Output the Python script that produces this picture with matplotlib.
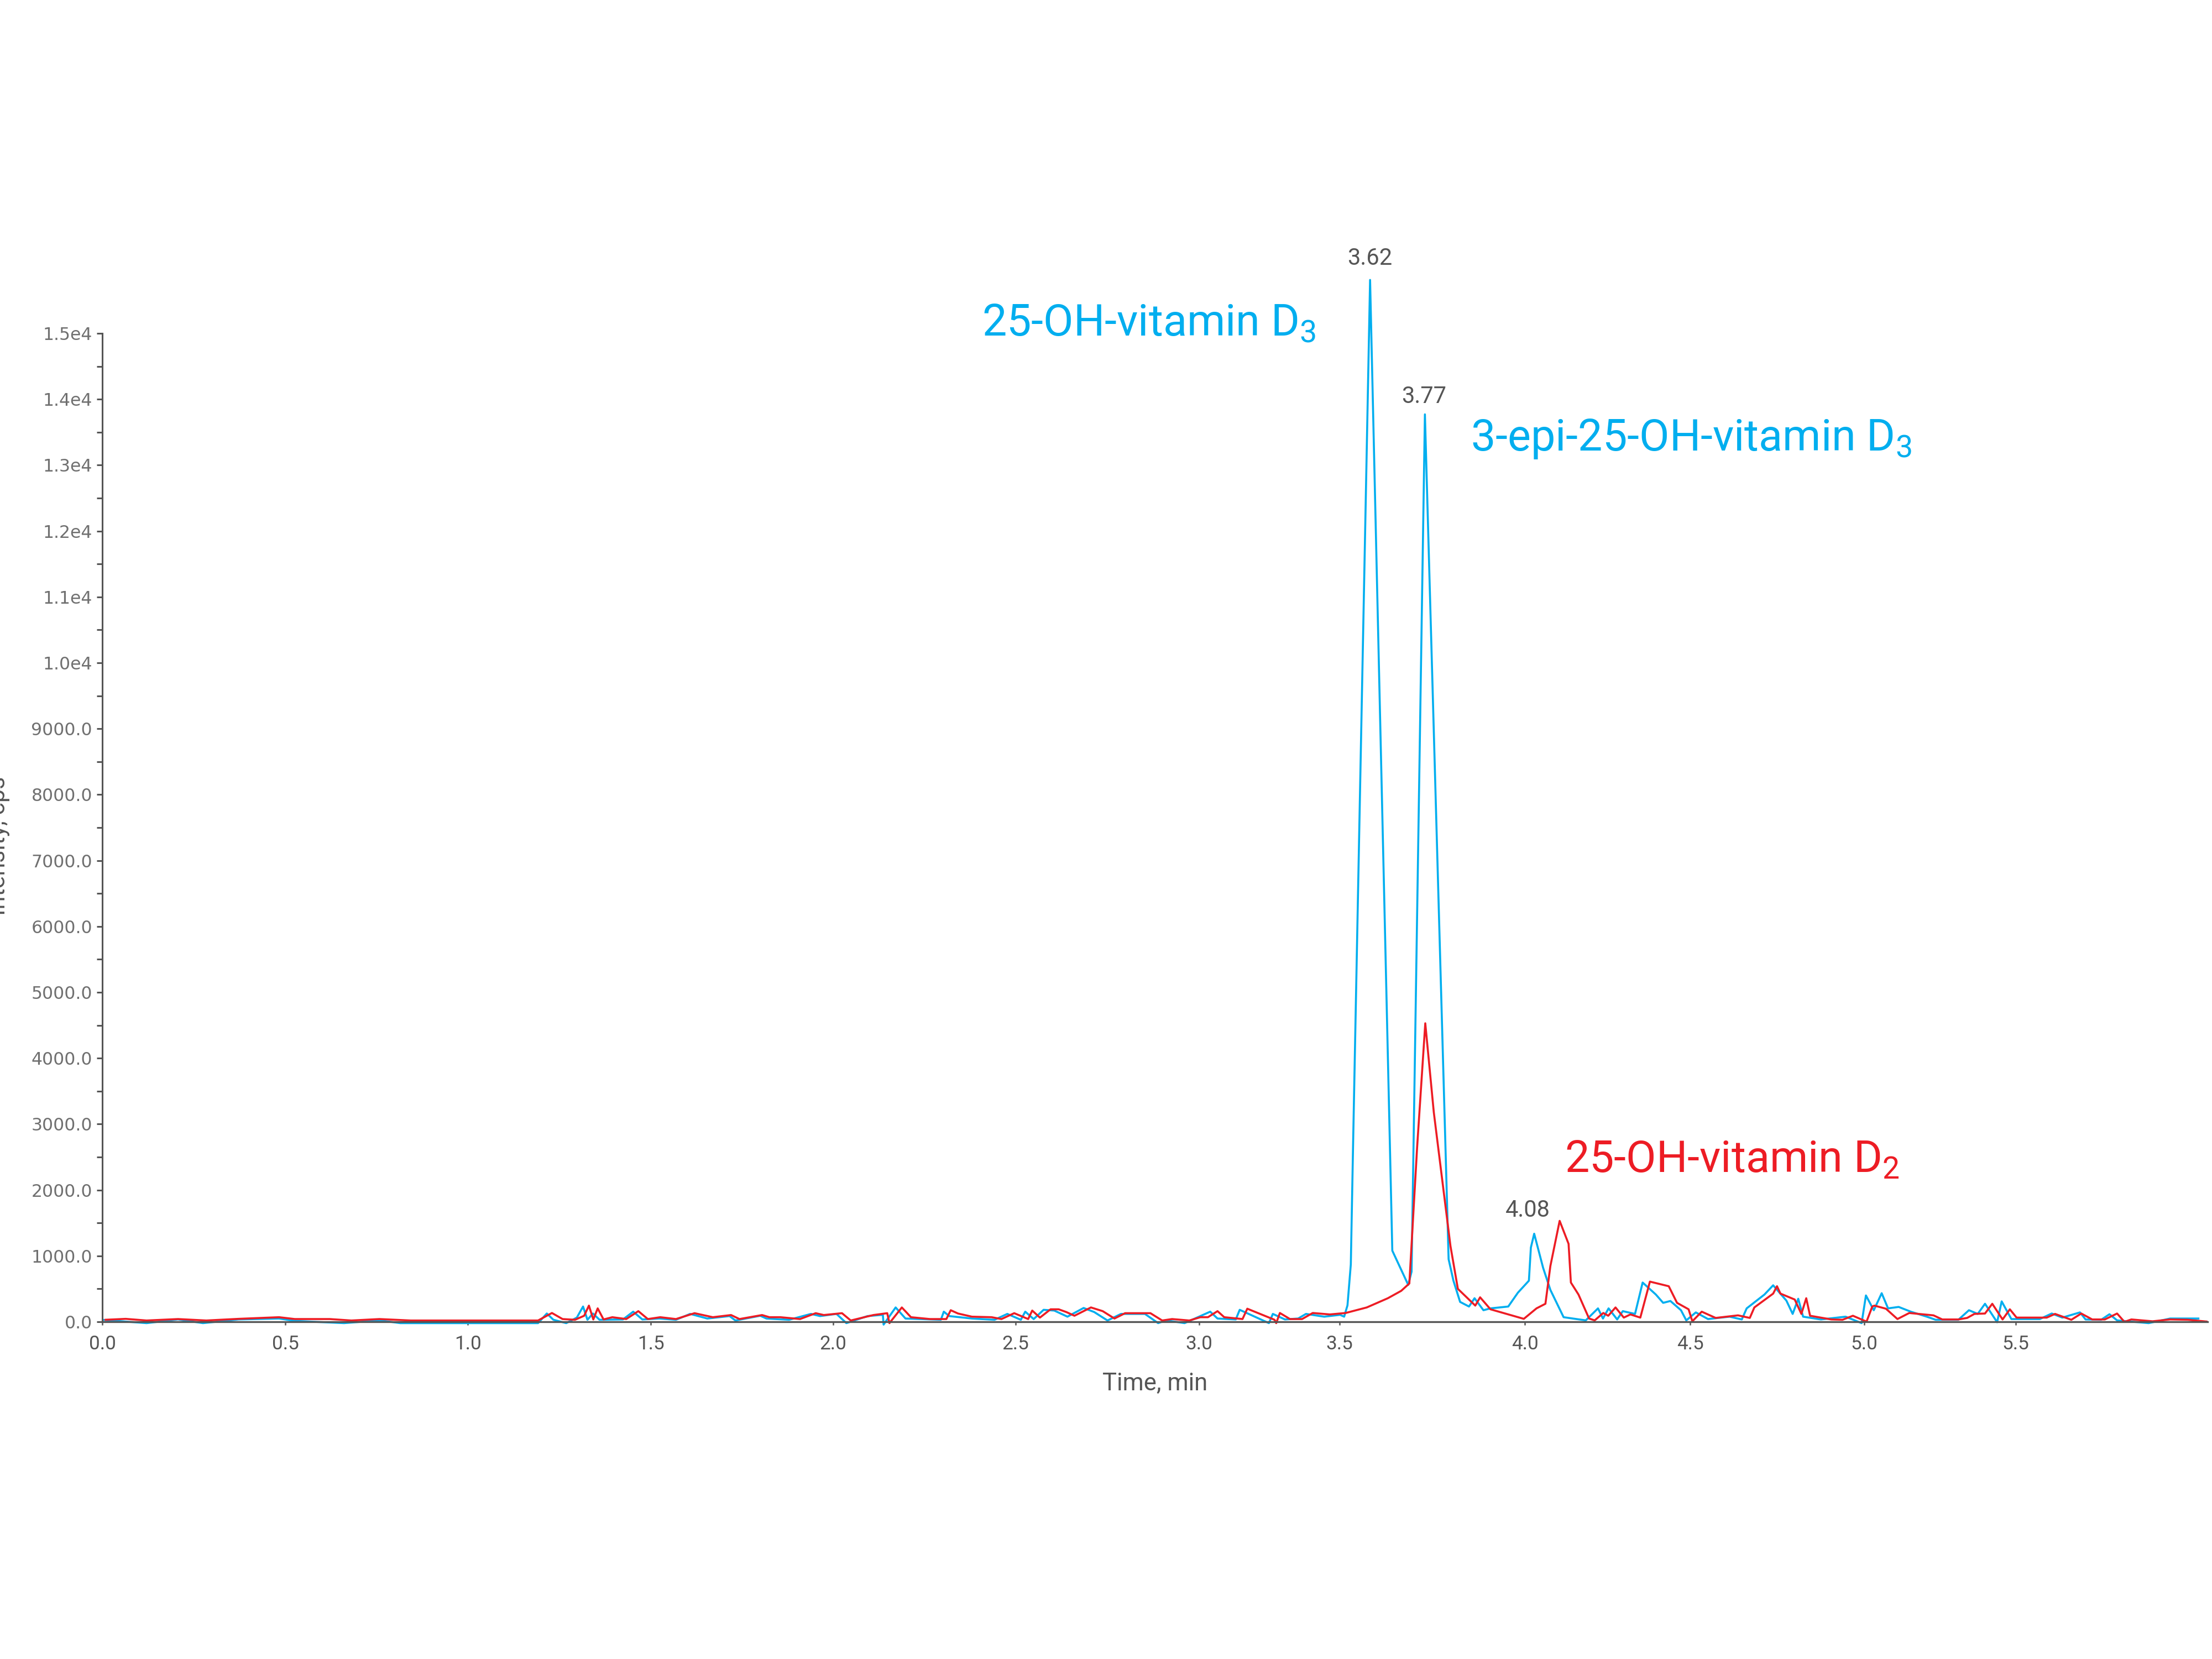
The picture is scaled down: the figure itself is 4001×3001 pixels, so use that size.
import numpy as np
import matplotlib
matplotlib.use("Agg")
import matplotlib.pyplot as plt
from matplotlib import font_manager
from matplotlib.font_manager import FontProperties
from matplotlib.ticker import FixedLocator, FuncFormatter

# ---- chromatogram traces (time in min, intensity in cps) -------------
blue_t = [0.0, 0.121, 0.207, 0.275, 0.372, 0.483, 0.526, 0.661, 0.758, 0.815,
          1.192, 1.216, 1.234, 1.269, 1.298, 1.315, 1.327, 1.342, 1.360, 1.424,
          1.452, 1.477, 1.523, 1.569, 1.608, 1.655, 1.716, 1.732, 1.800, 1.817,
          1.879, 1.939, 1.964, 2.009, 2.036, 2.094, 2.136, 2.138, 2.171, 2.198,
          2.295, 2.303, 2.318, 2.380, 2.442, 2.477, 2.514, 2.526, 2.549, 2.576,
          2.605, 2.641, 2.685, 2.714, 2.750, 2.787, 2.852, 2.888, 2.909, 2.960,
          2.988, 3.039, 3.065, 3.130, 3.144, 3.248, 3.262, 3.305, 3.352, 3.380,
          3.445, 3.501, 3.512, 3.521, 3.530, 3.536, 3.582, 3.642, 3.685, 3.694,
          3.730, 3.794, 3.807, 3.825, 3.849, 3.864, 3.888, 3.907, 3.955, 3.981,
          4.012, 4.018, 4.028, 4.055, 4.077, 4.117, 4.184, 4.221, 4.236, 4.253,
          4.279, 4.296, 4.333, 4.356, 4.396, 4.418, 4.440, 4.472, 4.488, 4.516,
          4.551, 4.613, 4.648, 4.662, 4.713, 4.738, 4.754, 4.776, 4.794, 4.810,
          4.824, 4.875, 4.946, 4.992, 5.005, 5.031, 5.057, 5.078, 5.113, 5.153,
          5.206, 5.235, 5.310, 5.345, 5.374, 5.398, 5.438, 5.453, 5.485, 5.572,
          5.608, 5.640, 5.693, 5.710, 5.757, 5.782, 5.805, 5.900, 5.965, 6.050]
blue_i = [30, -20, 36, -20, 36, 50, 14, -20, 22, -20,
          -20, 126, 31, -20, 64, 232, 31, 126, 31, 36,
          154, 36, 50, 31, 120, 50, 87, 20, 92, 50,
          31, 120, 87, 120, -20, 87, 106, -42, 218, 50,
          31, 154, 87, 50, 31, 120, 31, 154, 42, 182,
          171, 78, 210, 148, 20, 120, 120, -20, 22, -20,
          50, 154, 50, 36, 182, -20, 120, 36, 50, 120,
          78, 106, 78, 250, 870, 2650, 15810, 1080, 560, 760,
          13770, 950, 624, 302, 232, 358, 176, 204, 232, 442,
          624, 1127, 1337, 819, 484, 70, 22, 204, 50, 204,
          36, 162, 120, 596, 414, 288, 316, 176, 22, 143,
          42, 78, 36, 204, 414, 554, 456, 322, 120, 350,
          78, 36, 78, -20, 400, 176, 434, 204, 226, 154,
          78, 31, 31, 176, 120, 274, -6, 310, 42, 42,
          126, 64, 143, 36, 31, 115, 22, -20, 50, 50]

red_t = [0.009, 0.064, 0.121, 0.207, 0.284, 0.372, 0.483, 0.526, 0.622, 0.681,
         0.758, 0.844, 1.192, 1.230, 1.259, 1.293, 1.318, 1.331, 1.343, 1.355,
         1.371, 1.395, 1.433, 1.466, 1.492, 1.526, 1.569, 1.620, 1.670, 1.720,
         1.743, 1.805, 1.825, 1.855, 1.909, 1.952, 1.974, 2.024, 2.048, 2.110,
         2.148, 2.154, 2.188, 2.213, 2.265, 2.310, 2.322, 2.342, 2.380, 2.434,
         2.461, 2.496, 2.534, 2.545, 2.566, 2.595, 2.617, 2.638, 2.660, 2.705,
         2.737, 2.769, 2.798, 2.867, 2.899, 2.926, 2.973, 3.004, 3.031, 3.065,
         3.089, 3.154, 3.171, 3.268, 3.274, 3.287, 3.323, 3.366, 3.404, 3.465,
         3.516, 3.573, 3.630, 3.666, 3.688, 3.709, 3.731, 3.754, 3.775, 3.799,
         3.819, 3.866, 3.879, 3.907, 3.997, 4.035, 4.062, 4.077, 4.105, 4.132,
         4.139, 4.162, 4.194, 4.211, 4.237, 4.252, 4.274, 4.299, 4.319, 4.349,
         4.378, 4.435, 4.460, 4.495, 4.506, 4.533, 4.573, 4.637, 4.671, 4.684,
         4.738, 4.749, 4.759, 4.800, 4.819, 4.833, 4.844, 4.905, 4.937, 4.967,
         5.007, 5.026, 5.033, 5.071, 5.109, 5.148, 5.228, 5.257, 5.310, 5.339,
         5.363, 5.398, 5.422, 5.456, 5.480, 5.502, 5.593, 5.618, 5.667, 5.697,
         5.730, 5.768, 5.805, 5.827, 5.848, 5.912, 5.965, 6.018, 6.077]
red_i = [31, 45, 20, 42, 20, 45, 70, 42, 42, 20,
         42, 20, 20, 134, 42, 31, 92, 246, 36, 204,
         36, 70, 42, 162, 42, 70, 42, 131, 70, 103,
         42, 103, 70, 70, 42, 131, 103, 131, 20, 103,
         131, -20, 218, 70, 42, 42, 176, 126, 78, 70,
         42, 131, 42, 171, 64, 190, 190, 148, 92, 218,
         162, 50, 131, 131, 20, 42, 20, 70, 70, 162,
         70, 42, 199, 31, -20, 134, 42, 42, 134, 112,
         134, 218, 358, 470, 582, 2650, 4530, 3180, 2230, 1150,
         500, 246, 372, 190, 45, 204, 274, 847, 1532, 1183,
         596, 414, 50, 22, 134, 92, 218, 64, 112, 64,
         610, 540, 288, 190, 8, 154, 59, 98, 59, 218,
         428, 540, 428, 338, 120, 358, 92, 36, 31, 92,
         3, 232, 246, 199, 42, 134, 98, 36, 36, 59,
         120, 126, 274, 36, 190, 64, 64, 120, 31, 126,
         36, 36, 126, 0, 36, 8, 36, 31, 3]

x_ticks = [0.0, 0.5, 1.0, 1.5, 2.0, 2.5, 3.0, 3.5, 4.0, 4.5, 5.0, 5.5]
peak_labels = ["3.62", "3.77", "4.08"]
compounds = ["25-OH-vitamin D$_3$", "3-epi-25-OH-vitamin D$_3$", "25-OH-vitamin D$_2$"]

# the source time axis is hand-spaced: piecewise-linear scale through its ticks
AXIS_T = [-10.0] + x_ticks + [20.0]
AXIS_P = [-6610, 0, 331, 661, 992, 1322, 1652, 1984, 2238, 2573, 2872, 3187, 3461, 12161]


def fwd(t):
    return np.interp(t, AXIS_T, AXIS_P)


def inv(p):
    return np.interp(p, AXIS_P, AXIS_T)


def pick_font(*names):
    for n in names:
        try:
            font_manager.findfont(FontProperties(family=n), fallback_to_default=False)
            return n
        except Exception:
            pass
    return "DejaVu Sans"


FONT = pick_font("Roboto", "Liberation Sans Narrow")
plt.rcParams["font.family"] = [FONT, "DejaVu Sans"]
plt.rcParams["mathtext.fontset"] = "custom"
plt.rcParams["mathtext.rm"] = FONT
plt.rcParams["mathtext.default"] = "regular"

BLUE = "#00AEEF"
RED = "#ED1C24"
GREY = "#555555"

fig = plt.figure(figsize=(40.01, 30.01), dpi=100)
ax = fig.add_axes([0.04624, 0.1953, 0.9518, 0.7031])

ax.plot(blue_t, blue_i, color=BLUE, lw=2.6)
ax.plot(red_t, red_i, color=RED, lw=2.6)

ax.set_xscale("function", functions=(fwd, inv))
ax.set_xlim(0, 6.078)
ax.set_ylim(-200, 17500)

for s in ("top", "right"):
    ax.spines[s].set_visible(False)
ax.spines["left"].set_bounds(0, 15000)
ax.spines["left"].set_color(GREY)
ax.spines["left"].set_linewidth(2.2)
ax.spines["bottom"].set_position(("data", 0))
ax.spines["bottom"].set_color(GREY)
ax.spines["bottom"].set_linewidth(2.4)

ax.xaxis.set_major_locator(FixedLocator(x_ticks))
ax.xaxis.set_minor_locator(FixedLocator([]))
ax.xaxis.set_major_formatter(FuncFormatter(lambda v, p: f"{v:.1f}"))
ax.yaxis.set_major_locator(FixedLocator(np.arange(0, 15001, 1000)))
ax.yaxis.set_minor_locator(FixedLocator(np.arange(500, 15000, 1000)))
ax.yaxis.set_major_formatter(FuncFormatter(
    lambda v, p: f"{v / 1e4:.1f}e4" if v >= 10000 else f"{v:.1f}"))

ax.tick_params(axis="x", which="both", direction="out", length=4.3, width=1.8,
               color=GREY, pad=13, labelsize=25.3, labelcolor=GREY)
ax.tick_params(axis="y", which="both", direction="out", length=7, width=2.2,
               color=GREY, pad=6, labelsize=22.7, labelcolor="#707070",
               labelfontfamily="DejaVu Sans")

ax.set_xlabel("Time, min", fontsize=31.4, color=GREY, labelpad=24)
fig.text(18 / 4001, 0.49, "Intensity, cps", rotation=90, ha="right", va="center",
         fontsize=31, color=GREY)

# retention time labels
ax.text(3.582, 15965, peak_labels[0], ha="center", va="bottom", fontsize=30, color=GREY)
ax.text(3.727, 13867, peak_labels[1], ha="center", va="bottom", fontsize=30, color=GREY)
ax.text(4.008, 1518, peak_labels[2], ha="center", va="bottom", fontsize=30, color=GREY)

# compound names
ax.text(2.407, 14966, compounds[0], ha="left", va="baseline", fontsize=57, color=BLUE)
ax.text(3.854, 13221, compounds[1], ha="left", va="baseline", fontsize=57, color=BLUE)
ax.text(4.120, 2273, compounds[2], ha="left", va="baseline", fontsize=57, color=RED)

fig.savefig("out.png", dpi=100)
